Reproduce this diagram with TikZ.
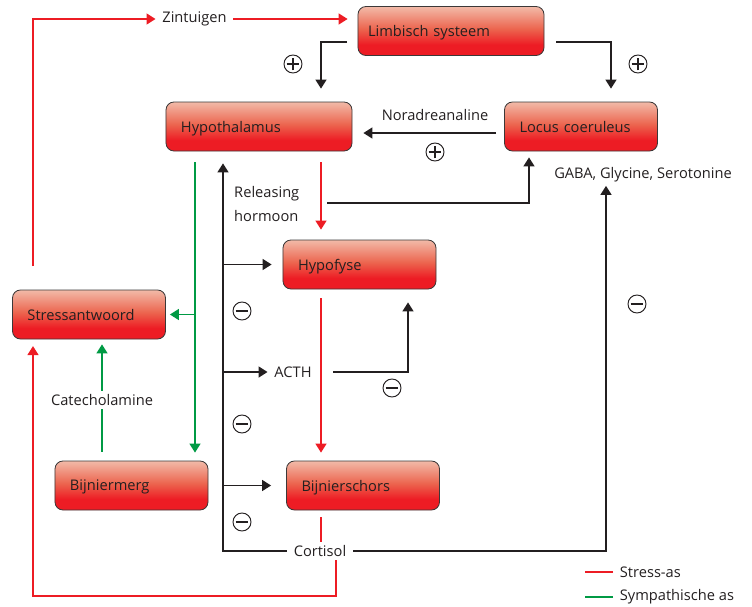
\documentclass[tikz,border=0pt]{standalone}
\usepackage{fontspec}
\setmainfont{Open Sans}
\usetikzlibrary{arrows.meta,calc}

\definecolor{boxtop}{RGB}{242,186,168}
\definecolor{boxmid}{RGB}{236,100,78}
\definecolor{boxred}{RGB}{237,28,36}
\definecolor{boxedge}{RGB}{60,56,56}
\definecolor{axred}{RGB}{237,28,36}
\definecolor{axgreen}{RGB}{0,154,68}
\definecolor{axblack}{RGB}{35,31,32}
\pgfdeclareverticalshading{boxfill}{100bp}{color(0bp)=(boxred); color(36bp)=(boxred); color(52bp)=(boxmid); color(75bp)=(boxtop); color(100bp)=(boxtop)}

\begin{document}
\begin{tikzpicture}[
      x=0.03cm,y=-0.03cm,
      every node/.style={font=\fontsize{12.5}{20.5}\selectfont,text=axblack},
      box/.style={draw=boxedge,line width=0.7pt,rounded corners=0.24cm,shading=boxfill,
        inner xsep=0.45cm,inner ysep=0pt,text width=3.69cm,text depth=0pt,align=left,minimum height=1.47cm},
      widebox/.style={box,inner xsep=0.3cm,text width=4.98cm},
      txt/.style={inner xsep=0.2cm,inner ysep=0.1cm},
      pm/.style={circle,draw=axblack,line width=0.8pt,inner sep=0pt,minimum size=0.54cm},
      pmMinus/.style={pm,path picture={
        \draw[line width=0.9pt] ([xshift=-0.19cm]path picture bounding box.center) -- ([xshift=0.19cm]path picture bounding box.center);}},
      pmPlus/.style={pm,path picture={
        \draw[line width=0.9pt] ([xshift=-0.19cm]path picture bounding box.center) -- ([xshift=0.19cm]path picture bounding box.center)
          ([yshift=-0.19cm]path picture bounding box.center) -- ([yshift=0.19cm]path picture bounding box.center);}},
      redline/.style={draw=axred,line width=1.3pt},
      redarr/.style={redline,->},
      grnarr/.style={draw=axgreen,line width=1.3pt,->},
      grnline/.style={draw=axgreen,line width=1.3pt},
      blkarr/.style={draw=axblack,line width=1.3pt,->},
      >={Triangle[length=0.27cm,width=0.33cm]}
    ]
      \useasboundingbox (0,0) rectangle (752,606);

      \node[widebox] (lim) at (451,31) {Limbisch systeem};
      \node[widebox,inner xsep=0.45cm,text width=4.68cm] (hyp) at (259,126.5) {Hypothalamus};
      \node[box] (loc) at (581,126.5) {Locus coeruleus};
      \node[box] (hypo) at (359.5,264.5) {Hypofyse};
      \node[box] (stress) at (89,314.5) {Stressantwoord};
      \node[box] (merg) at (131.5,485.5) {Bijniermerg};
      \node[box] (schors) at (363,485.5) {Bijnierschors};

      \node[txt] (zin) at (194.5,19) {Zintuigen};
      \node[txt] (nor) at (435,115) {Noradreanaline};
      \node[txt,anchor=west,inner sep=0pt,align=left] (rh) at (234,204) {Releasing\\hormoon};
      \node[txt] (gaba) at (643,175) {GABA, Glycine, Serotonine};
      \node[txt] (acth) at (293,372) {ACTH};
      \node[txt] (cort) at (320,551) {Cortisol};
      \node[txt,anchor=west] (lgStress) at (613,572) {Stress-as};
      \node[txt,anchor=west] (lgSymp) at (613,597) {Sympathische as};

      \node[pmPlus] (plA) at (293,64) {};
      \node[pmPlus] (plB) at (638,64) {};
      \node[pmPlus] (plC) at (435,152) {};
      \node[pmMinus] (miA) at (242,311) {};
      \node[pmMinus] (miB) at (242,424) {};
      \node[pmMinus] (miC) at (242,522) {};
      \node[pmMinus] (miD) at (392,388) {};
      \node[pmMinus] (miE) at (637,304) {};

      \coordinate (xRel) at (321,0);
      \coordinate (xFbL) at (223,0);
      \coordinate (xGrn) at (195,0);
      \coordinate (xCat) at (102,0);
      \coordinate (xLoc) at (611,0);
      \coordinate (xLcB) at (529,0);
      \coordinate (xGaba) at (606,0);
      \coordinate (xActh) at (408,0);
      \coordinate (xCortR) at (336,0);
      \coordinate (zinStart) at (33,266);
      \coordinate (limA) at (347,42);
      \coordinate (limB) at (556,42);
      \coordinate (norStart) at (496,133);
      \coordinate (rhStart) at (327,203);
      \coordinate (redCorner) at (33,596);

      \draw[redarr] (zinStart) |- (zin.west);
      \draw[redarr,shorten >=0.3cm] (zin.east) -- (zin.east -| lim.west);
      \draw[blkarr,shorten >=0.39cm] (limA) -| (hyp.north -| xRel);
      \draw[blkarr,shorten >=0.39cm] (limB) -| (loc.north -| xLoc);
      \draw[blkarr,shorten >=0.33cm] (norStart) -- (norStart -| hyp.east);
      \draw[redarr,shorten <=0.33cm,shorten >=0.3cm] (hyp.south -| xRel) -- (hypo.north -| xRel);
      \draw[blkarr,shorten >=0.18cm] (rhStart) -| (loc.south -| xLcB);
      \draw[redarr,shorten <=0.27cm,shorten >=0.24cm] (hypo.south -| xRel) -- (schors.north -| xRel);
      \draw[redline,shorten <=0.2cm] (schors.south -| xRel) -- (cort.north -| xRel);
      \draw[blkarr,shorten >=0.36cm] (cort.west) -| (hyp.south -| xFbL);
      \draw[blkarr] (cort.east) -| (gaba.south -| xGaba);
      \draw[blkarr,shorten >=0.33cm] (hypo.west -| xFbL) -- (hypo.west);
      \draw[blkarr] (acth.west -| xFbL) -- (acth.west);
      \draw[blkarr,shorten >=0.45cm] (schors.west -| xFbL) -- (schors.west);
      \draw[blkarr,shorten >=0.39cm] ([xshift=0.45cm]acth.east) -| (hypo.south -| xActh);
      \draw[redarr,shorten >=0.2cm] (cort.south -| xCortR) |- (redCorner) -- (redCorner |- stress.south);
      \draw[grnarr,shorten <=0.33cm,shorten >=0.24cm] (hyp.south -| xGrn) -- (merg.north -| xGrn);
      \draw[grnarr,shorten >=0.12cm] (stress.east -| xGrn) -- (stress.east);
      \draw[grnarr,shorten <=0.27cm,shorten >=0.15cm] (merg.north -| xCat) -- node[txt,fill=white] (cat) {Catecholamine} (stress.south -| xCat);

      \draw[redline] (lgStress.west) -- ++(-28,0);
      \draw[grnline] (lgSymp.west) -- ++(-28,0);
    \end{tikzpicture}
\end{document}
